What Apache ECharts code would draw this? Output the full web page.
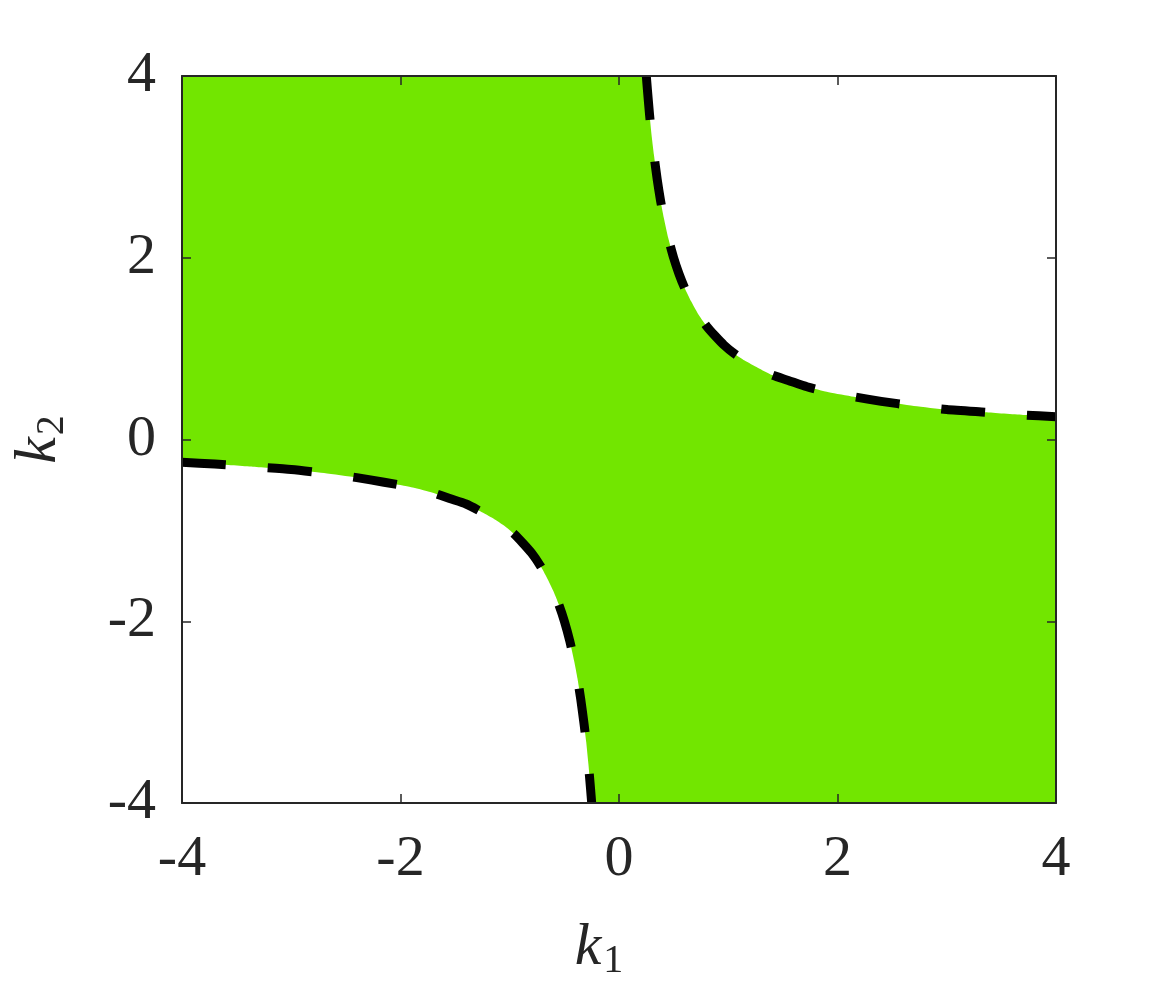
<!DOCTYPE html>
<html>
<head>
<meta charset="utf-8">
<script src="https://cdn.jsdelivr.net/npm/echarts@6/dist/echarts.min.js"></script>
<style>
html,body{margin:0;padding:0;background:#fff;}
#chart{width:1163px;height:998px;}
</style>
</head>
<body>
<div id="chart"></div>
<script>
// Axis ticks
var xTicks = [-4, -2, 0, 2, 4];
var yTicks = [-4, -2, 0, 2, 4];

// Upper boundary curve (k1, k2)
var upperK1 = [0.25, 0.26, 0.28, 0.30, 0.32, 0.35, 0.38, 0.41, 0.45, 0.50, 0.55, 0.60, 0.66, 0.72, 0.80, 0.88, 0.96, 1.05, 1.15, 1.27, 1.40, 1.55, 1.72, 1.92, 2.15, 2.40, 2.70, 3.00, 3.35, 3.70, 4.00];
var upperK2 = [4.00, 3.85, 3.57, 3.33, 3.13, 2.86, 2.63, 2.44, 2.22, 2.00, 1.82, 1.67, 1.52, 1.39, 1.25, 1.14, 1.04, 0.95, 0.87, 0.79, 0.71, 0.65, 0.58, 0.52, 0.47, 0.42, 0.37, 0.33, 0.30, 0.27, 0.25];

// Lower boundary curve (k1, k2)
var lowerK1 = [-4.00, -3.70, -3.35, -3.00, -2.70, -2.40, -2.15, -1.92, -1.72, -1.55, -1.40, -1.27, -1.15, -1.05, -0.96, -0.88, -0.80, -0.72, -0.66, -0.60, -0.55, -0.50, -0.45, -0.41, -0.38, -0.35, -0.32, -0.30, -0.28, -0.26, -0.25];
var lowerK2 = [-0.25, -0.27, -0.30, -0.33, -0.37, -0.42, -0.47, -0.52, -0.58, -0.65, -0.71, -0.79, -0.87, -0.95, -1.04, -1.14, -1.25, -1.39, -1.52, -1.67, -1.82, -2.00, -2.22, -2.44, -2.63, -2.86, -3.13, -3.33, -3.57, -3.85, -4.00];

function zip(a, b) { return a.map(function (v, i) { return [v, b[i]]; }); }

var GREEN = '#72e600';
var INK = '#262626';
var FONT = '"Liberation Serif", "DejaVu Serif", serif';

var chart = echarts.init(document.getElementById('chart'), null, {renderer: 'canvas'});

function axisBase(extra) {
  var base = {
    type: 'value',
    min: -4, max: 4, interval: 2,
    z: 10,
    splitLine: {show: false},
    axisLine: {show: true, onZero: false, lineStyle: {color: INK, width: 2}},
    axisTick: {show: true, inside: true, length: 9, lineStyle: {color: INK, width: 1.5}}
  };
  for (var k in extra) base[k] = extra[k];
  return base;
}

var nameRich = {
  k: {fontFamily: FONT, fontStyle: 'italic', fontSize: 60, color: INK},
  s: {fontFamily: FONT, fontSize: 40, color: INK, padding: [26, 0, 0, 2]}
};

var option = {
  animation: false,
  grid: {
    left: 182, top: 76, right: 107, bottom: 195,
    show: true, backgroundColor: GREEN, borderWidth: 0
  },
  xAxis: [
    axisBase({
      position: 'bottom',
      name: '{k|k}{s|1}',
      nameLocation: 'middle',
      nameGap: 112,
      nameTextStyle: {rich: nameRich, padding: [0, 40, 0, 0]},
      axisLabel: {
        show: true, margin: 28, color: INK, fontFamily: FONT, fontSize: 58,
        formatter: function (v) { return xTicks.indexOf(v) >= 0 ? String(v) : ''; }
      }
    }),
    axisBase({position: 'top', axisLabel: {show: false}})
  ],
  yAxis: [
    axisBase({
      position: 'left',
      name: '{k|k}{s|2}',
      nameLocation: 'middle',
      nameGap: 110,
      nameRotate: 90,
      nameTextStyle: {rich: nameRich},
      axisLabel: {
        show: true, margin: 26, color: INK, fontFamily: FONT, fontSize: 58,
        formatter: function (v) { return yTicks.indexOf(v) >= 0 ? String(v) : ''; }
      }
    }),
    axisBase({position: 'right', axisLabel: {show: false}})
  ],
  series: [
    {
      type: 'line',
      data: zip(upperK1, upperK2),
      showSymbol: false, symbol: 'none',
      smooth: 0.2,
      lineStyle: {color: '#000', width: 9, type: [44, 42], cap: 'butt', join: 'round'},
      areaStyle: {color: '#ffffff', opacity: 1, origin: 'end'},
      z: 3
    },
    {
      type: 'line',
      data: zip(lowerK1, lowerK2),
      showSymbol: false, symbol: 'none',
      smooth: 0.2,
      lineStyle: {color: '#000', width: 9, type: [44, 42], cap: 'butt', join: 'round'},
      areaStyle: {color: '#ffffff', opacity: 1, origin: 'start'},
      z: 3
    }
  ]
};

chart.setOption(option);
</script>
</body>
</html>
